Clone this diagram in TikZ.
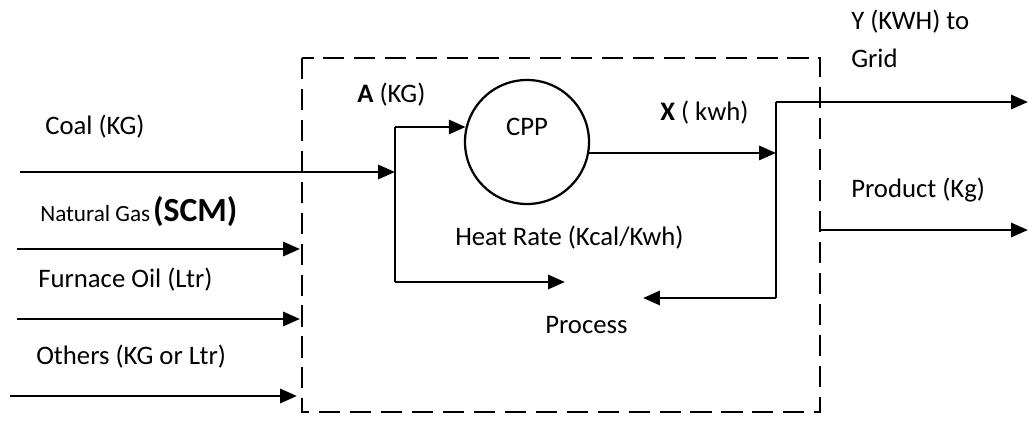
\documentclass[tikz,border=0pt]{standalone}
\usepackage{fontspec}
\setmainfont{Carlito}
\usetikzlibrary{arrows.meta}
\tikzset{
flow/.style = {line width=2pt, -{Triangle[length=12pt,width=10pt]}},
line/.style = {line width=2pt},
lbl/.style = {anchor=west, inner sep=0pt, font=\fontsize{19}{22}\selectfont}
}

\begin{document}
\begin{tikzpicture}[x=0.025cm, y=-0.025cm]
\useasboundingbox (0,0) rectangle (1035,421);
% system boundary
\draw[line width=1.6pt, dash pattern=on 15pt off 7pt] (302,58) rectangle (820,412);
\node[circle, draw, line width=1.6pt, minimum size=3.1cm, inner sep=0pt] (cpp) at (527,142) {};
\node[lbl, anchor=center] (cpptxt) at (527,127) {CPP};
% fuel inputs
\coordinate (coal) at (20,172);
\coordinate (split) at (395,172);
\coordinate (atop) at (395,127);
\coordinate (abot) at (395,282);
\coordinate (proc) at (565,282);
\coordinate (gas) at (17,249);
\coordinate (gasend) at (300,249);
\coordinate (oil) at (17,319);
\coordinate (oilend) at (300,319);
\coordinate (oth) at (10,396);
\coordinate (othend) at (297,396);
% power outputs
\coordinate (xr) at (776,153);
\coordinate (rtop) at (776,102);
\coordinate (rbot) at (776,298);
\coordinate (back) at (643,298);
\coordinate (grid) at (1028,102);
\coordinate (pdtop) at (820,212);
\coordinate (pdc) at (820,230);
\coordinate (pdend) at (1028,230);

\draw[flow] (coal) -- (split);
\draw[line] (atop) -- (abot);
\draw[flow] (atop) -- (atop -| cpp.166);
\draw[flow] (abot) -- (proc);
\draw[flow] (gas) -- (gasend);
\draw[flow] (oil) -- (oilend);
\draw[flow] (oth) -- (othend);
\draw[flow] (cpp.-10) -- (cpp.-10 -| xr);
\draw[line] (rtop) -- (rbot);
\draw[flow] (rtop) -- (grid);
\draw[flow] (rbot) -- (back);
\draw[flow] (pdtop) -- (pdc) -- (pdend);

\node[lbl, font=\fontsize{16.5}{20}\selectfont] (gaslbl) at (40,212) {Natural Gas\hspace{0.12em}\fontsize{24}{26}\selectfont\bfseries (SCM)};
\node[lbl] (coallbl) at (45,127) {Coal (KG)};
\node[lbl] (oillbl) at (38,280) {Furnace Oil (Ltr)};
\node[lbl] (othlbl) at (36,357) {Others (KG or Ltr)};
\node[lbl] (alb) at (357,95) {\textbf{A} (KG)};
\node[lbl] (xlbl) at (660,113) {\textbf{X} ( kwh)};
\node[lbl] (hrlbl) at (455,238) {Heat Rate (Kcal/Kwh)};
\node[lbl] (proclbl) at (545,325) {Process};
\node[lbl] (ylbl) at (851,22) {Y (KWH) to};
\node[lbl] (gridlbl) at (851,58) {Grid};
\node[lbl] (pdlbl) at (851,190) {Product (Kg)};
\end{tikzpicture}
\end{document}
